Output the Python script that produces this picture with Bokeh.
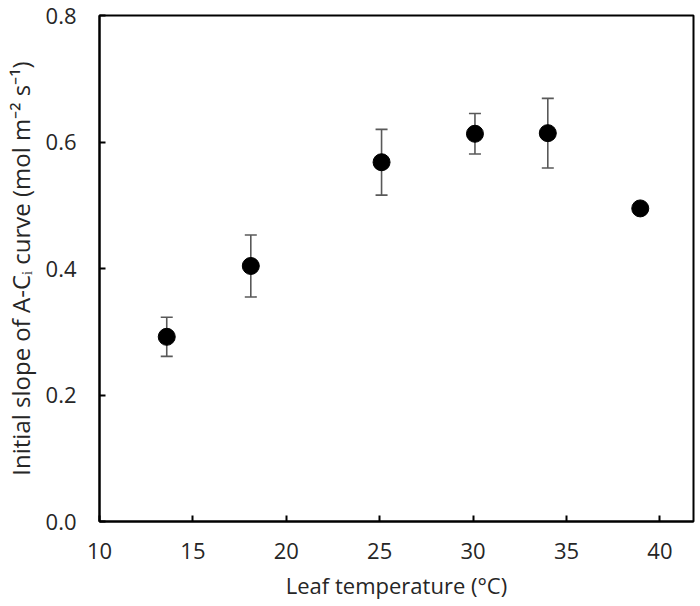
from bokeh.plotting import figure
from bokeh.models import ColumnDataSource, Whisker, TeeHead, FixedTicker, PrintfTickFormatter, Range1d
from bokeh.embed import file_html
from bokeh.resources import INLINE

# Data
leaf_temp = [13.6, 18.1, 25.1, 30.1, 34.0, 38.95]
initial_slope = [0.292, 0.404, 0.568, 0.613, 0.614, 0.495]
slope_se = [0.031, 0.049, 0.052, 0.032, 0.055, 0.0]

x_ticks = [10, 15, 20, 25, 30, 35, 40]
y_ticks = [0.0, 0.2, 0.4, 0.6, 0.8]

FONT = "Open Sans"
TEXT_COLOR = "#262626"

p = figure(width=700, height=606, output_backend="svg", toolbar_location=None,
           x_range=Range1d(10, 41.8), y_range=Range1d(0, 0.8),
           min_border_left=94, min_border_right=7, min_border_top=15, min_border_bottom=85)
p.grid.visible = False
p.outline_line_color = "black"
p.outline_line_width = 2

# error bars (only where an error is given)
err_idx = [i for i, s in enumerate(slope_se) if s > 0]
err_src = ColumnDataSource(data=dict(
    x=[leaf_temp[i] for i in err_idx],
    upper=[initial_slope[i] + slope_se[i] for i in err_idx],
    lower=[initial_slope[i] - slope_se[i] for i in err_idx],
))
w = Whisker(source=err_src, base="x", upper="upper", lower="lower",
            line_color="#595959", line_width=1.6, level="underlay",
            upper_head=TeeHead(size=12, line_color="#595959", line_width=1.6),
            lower_head=TeeHead(size=12, line_color="#595959", line_width=1.6))
p.add_layout(w)

src = ColumnDataSource(data=dict(x=leaf_temp, y=initial_slope))
p.scatter("x", "y", source=src, size=17, fill_color="black", line_color="black")

for ax in (p.xaxis[0], p.yaxis[0]):
    ax.axis_line_color = "black"
    ax.axis_line_width = 2
    ax.major_tick_line_color = "black"
    ax.major_tick_line_width = 2
    ax.major_tick_in = 6
    ax.major_tick_out = 0
    ax.minor_tick_line_color = None
    ax.major_label_text_font = FONT
    ax.major_label_text_font_size = "22px"
    ax.major_label_text_color = TEXT_COLOR
    ax.axis_label_text_font = FONT
    ax.axis_label_text_font_style = "normal"
    ax.axis_label_text_color = TEXT_COLOR

p.xaxis.axis_label_text_font_size = "22px"
p.yaxis.axis_label_text_font_size = "24px"
p.xaxis.ticker = FixedTicker(ticks=x_ticks)
p.yaxis.ticker = FixedTicker(ticks=y_ticks)
p.yaxis.formatter = PrintfTickFormatter(format="%.1f")
p.xaxis.major_label_standoff = 21
p.yaxis.major_label_standoff = 23
p.xaxis.axis_label_standoff = 8
p.yaxis.axis_label_standoff = 6
p.xaxis.axis_label = "Leaf temperature (°C)"
p.yaxis.axis_label = "Initial slope of A-Cᵢ curve (mol m⁻² s⁻¹)"

open("out.html", "w").write(file_html(p, INLINE))
